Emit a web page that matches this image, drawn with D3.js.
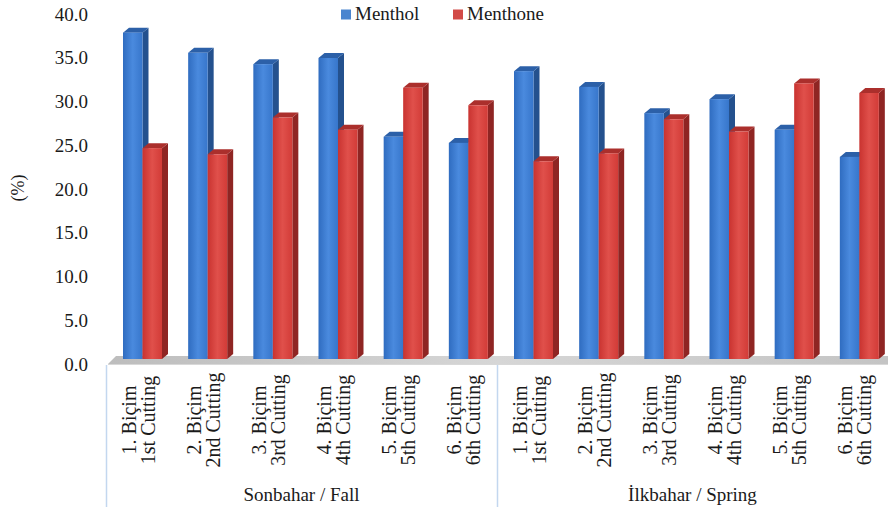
<!DOCTYPE html>
<html>
<head>
<meta charset="utf-8">
<script src="https://cdn.jsdelivr.net/npm/d3@7"></script>
<style>
  body { margin: 0; background: #fff; }
  svg text { font-family: "Liberation Serif", "DejaVu Serif", serif; fill: #1a1a1a; }
</style>
</head>
<body>
<script>
// categories: cutting number, two seasons
var cutTr = ["1. Biçim", "2. Biçim", "3. Biçim", "4. Biçim", "5. Biçim", "6. Biçim"];
var cutEn = ["1st Cutting", "2nd Cutting", "3rd Cutting", "4th Cutting", "5th Cutting", "6th Cutting"];
var seasons = ["Sonbahar / Fall", "İlkbahar / Spring"];
var seriesNames = ["Menthol", "Menthone"];

// values (%), fall then spring
var menthol  = [37.3, 35.0, 33.7, 34.4, 25.4, 24.7, 32.9, 31.1, 28.1, 29.7, 26.2, 23.1];
var menthone = [24.1, 23.4, 27.6, 26.2, 31.0, 29.0, 22.6, 23.5, 27.4, 26.0, 31.5, 30.4];
var yTicks = [0, 5, 10, 15, 20, 25, 30, 35, 40];

var width = 888, height = 511;
var depthX = 6, depthY = 5;
var serif = "'Liberation Serif', 'DejaVu Serif', serif";

var svg = d3.select("body").append("svg")
    .attr("width", width)
    .attr("height", height)
    .style("font-family", serif);

var defs = svg.append("defs");
function grad(id, stops) {
    var g = defs.append("linearGradient").attr("id", id)
        .attr("x1", "0").attr("x2", "1").attr("y1", "0").attr("y2", "0");
    stops.forEach(function (s) {
        g.append("stop").attr("offset", s[0]).attr("stop-color", s[1]);
    });
}
grad("blueFront", [[0, "#2f6cc0"], [0.5, "#4a8ade"], [1, "#3776cb"]]);
grad("redFront", [[0, "#c93330"], [0.5, "#e0504b"], [1, "#d23b37"]]);
grad("floorGrad", [[0, "#bdbdbd"], [0.5, "#d6d6d6"], [1, "#c4c4c4"]]);

var colors = {
    Menthol:  { front: "url(#blueFront)", side: "#24518e", top: "#2c60a8" },
    Menthone: { front: "url(#redFront)",  side: "#8f2523", top: "#ab2f2c" }
};

// one band for each of the 12 cuttings
var idx = d3.range(12);
var x = d3.scaleBand().domain(idx).range([106, 888]).padding(0);
var xIn = d3.scaleBand().domain(seriesNames).range([0, 39]);
var y = d3.scaleLinear().domain([0, 40]).range([359, 9]);      // bars (front plane)
var yLab = d3.scaleLinear().domain([0, 40]).range([364, 14]);  // tick labels

// floor
svg.append("polygon")
    .attr("points", [[108, 364], [888, 364], [888, 356], [116, 356]].join(" "))
    .attr("fill", "url(#floorGrad)");
svg.append("line")
    .attr("x1", 108).attr("x2", 888).attr("y1", 364.5).attr("y2", 364.5)
    .attr("stroke", "#d8d8d8");

// bars
var rows = idx.map(function (i) {
    return { i: i, Menthol: menthol[i], Menthone: menthone[i] };
});

var groups = svg.selectAll(".grp")
    .data(rows)
    .enter().append("g")
    .attr("class", "grp")
    .attr("transform", function (d) { return "translate(" + (x(d.i) + 17) + ",0)"; });

seriesNames.forEach(function (name) {
    var w = xIn.bandwidth();
    groups.each(function (d) {
        var g = d3.select(this);
        var x0 = xIn(name), x1 = x0 + w;
        var yt = y(d[name]), yb = y(0);
        var c = colors[name];
        g.append("polygon")
            .attr("points", [[x1, yt], [x1 + depthX, yt - depthY], [x1 + depthX, yb - depthY], [x1, yb]].join(" "))
            .attr("fill", c.side);
        g.append("polygon")
            .attr("points", [[x0, yt], [x0 + depthX, yt - depthY], [x1 + depthX, yt - depthY], [x1, yt]].join(" "))
            .attr("fill", c.top);
        g.append("rect")
            .attr("x", x0).attr("y", yt)
            .attr("width", w).attr("height", yb - yt)
            .attr("fill", c.front);
    });
});

// y tick labels
svg.selectAll(".ytick")
    .data(yTicks)
    .enter().append("text")
    .attr("class", "ytick")
    .attr("x", 88)
    .attr("y", function (d) { return yLab(d); })
    .attr("dy", "0.35em")
    .attr("text-anchor", "end")
    .style("font-family", serif)
    .style("font-size", "19px")
    .text(function (d) { return d3.format(".1f")(d); });

svg.append("text")
    .attr("transform", "translate(24,188) rotate(-90)")
    .attr("text-anchor", "middle")
    .style("font-family", serif)
    .style("font-size", "18px")
    .text("(%)");

// category box lines
var lineCol = "#c3d7ef";
[106, 497].forEach(function (xx) {
    svg.append("line")
        .attr("x1", xx + 0.5).attr("x2", xx + 0.5)
        .attr("y1", 365).attr("y2", 507)
        .attr("stroke", lineCol).attr("stroke-width", 1.5);
});

// category labels (rotated, two lines)
var cat = svg.selectAll(".cat")
    .data(idx)
    .enter().append("text")
    .attr("class", "cat")
    .attr("text-anchor", "middle")
    .style("font-family", serif)
    .style("font-size", "20px")
    .attr("transform", function (i) {
        return "translate(" + (x(i) + x.bandwidth() / 2 - 3) + ",420) rotate(-90)";
    });
cat.append("tspan").attr("x", 0).attr("y", 0)
    .text(function (i) { return cutTr[i % 6]; });
cat.append("tspan").attr("x", 0).attr("y", 19)
    .text(function (i) { return cutEn[i % 6]; });

// season labels
svg.selectAll(".season")
    .data(seasons)
    .enter().append("text")
    .attr("class", "season")
    .attr("x", function (d, k) { return (x(k * 6) + x(k * 6 + 5) + x.bandwidth()) / 2; })
    .attr("y", 501)
    .attr("text-anchor", "middle")
    .style("font-family", serif)
    .style("font-size", "19px")
    .text(function (d) { return d; });

// legend
var legX = [341, 453];
var leg = svg.selectAll(".leg")
    .data(seriesNames)
    .enter().append("g")
    .attr("class", "leg")
    .attr("transform", function (d, k) { return "translate(" + legX[k] + ",0)"; });
leg.append("rect")
    .attr("x", 0).attr("y", 9.5)
    .attr("width", 10).attr("height", 10)
    .attr("fill", function (d) { return d === "Menthol" ? "#4a85cf" : "#d24a47"; });
leg.append("text")
    .attr("x", 14).attr("y", 20)
    .style("font-family", serif)
    .style("font-size", "19px")
    .text(function (d) { return d; });
</script>
</body>
</html>
